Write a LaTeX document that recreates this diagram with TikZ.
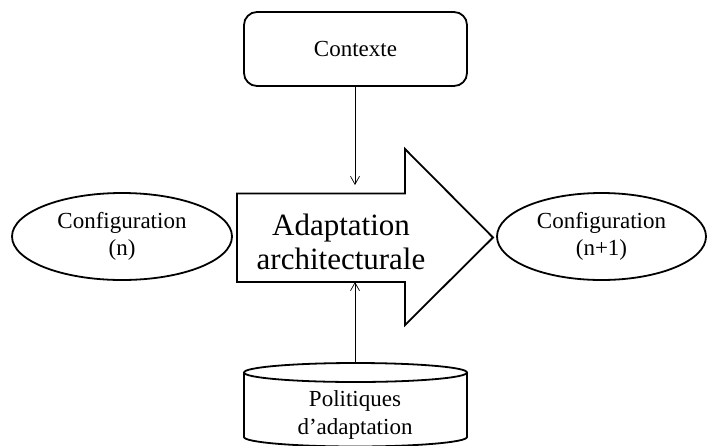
\documentclass[tikz,border=0pt]{standalone}
\usepackage{fontspec}
\setmainfont{Liberation Serif}
\usetikzlibrary{arrows.meta,shapes.geometric}
\begin{document}
\begin{tikzpicture}[x=1pt,y=-1pt,
  shapeline/.style={draw=black,line width=1.8pt},
  link/.style={draw=black,line width=0.7pt,-{Straight Barb[length=8pt,width=9pt,line width=0.7pt]}},
  lbl/.style={font=\fontsize{23}{27.5}\selectfont,align=center,inner sep=0pt},
  bigl/.style={font=\fontsize{31}{34}\selectfont,align=center,inner sep=0pt},
  conf/.style={shapeline,ellipse,inner sep=0pt,lbl}]
\useasboundingbox (0,0) rectangle (709,445);

% context box
\node[shapeline,rounded corners=13pt,minimum width=223pt,minimum height=74pt,lbl]
  (ctx) at (355.5,49) {Contexte};

% configurations
\node[conf,minimum width=220pt,minimum height=87pt] (cfgA) at (122,236.5) {Configuration\\(n)};
\node[conf,minimum width=209pt,minimum height=87pt] (cfgB) at (601.5,236.5) {Configuration\\(n+1)};

% big block arrow
\draw[shapeline,line join=miter] (237,193.5) -- (405,193.5) -- (405,149) -- (493,237.5)
  -- (405,325) -- (405,282) -- (237,282) -- cycle;
\node[bigl] (adapt) at (341,242) {Adaptation\\architecturale};
\coordinate (adTop) at (355,185);
\coordinate (adBot) at (355,282);

% policy store (cylinder cut by the lower edge)
\begin{scope}
\clip (0,0) rectangle (709,445);
\draw[shapeline] (244,372.5) -- (244,437) arc[start angle=180,end angle=360,x radius=111.5pt,y radius=9.5pt]
  -- (467,372.5);
\draw[shapeline,fill=white] (355.5,372.5) ellipse[x radius=111.5pt,y radius=9.5pt];
\end{scope}
\coordinate (polTop) at (355,363);
\node[lbl] (pol) at (355,415) {Politiques\\d’adaptation};

% connectors
\draw[link] (ctx.south -| adTop) -- (adTop);
\draw[link] (polTop) -- (adBot);
\end{tikzpicture}
\end{document}
